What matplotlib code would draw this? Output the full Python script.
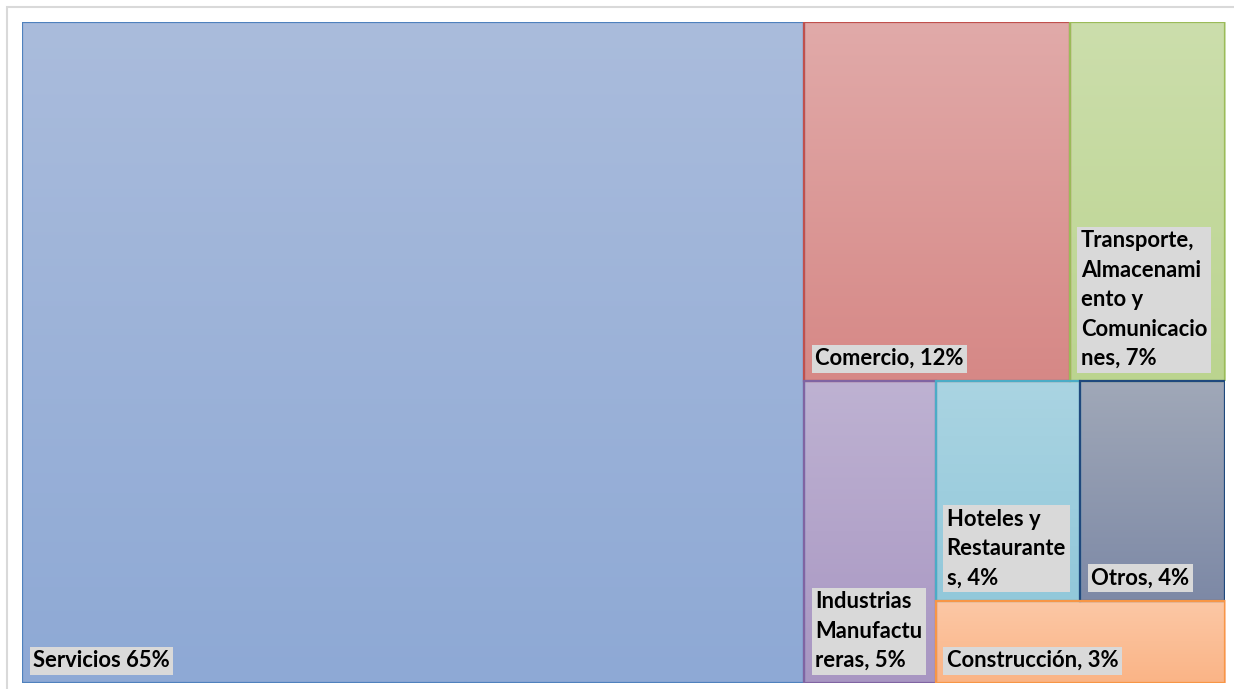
import matplotlib
matplotlib.use("Agg")
import matplotlib.pyplot as plt
import numpy as np
from matplotlib.colors import to_rgb
from matplotlib.patches import Rectangle

# data
labels = [
    "Servicios 65%",
    "Comercio, 12%",
    "Transporte,\nAlmacenami\nento y\nComunicacio\nnes, 7%",
    "Industrias\nManufactu\nreras, 5%",
    "Hoteles y\nRestaurante\ns, 4%",
    "Otros, 4%",
    "Construcción, 3%",
]
values = [65, 12, 7, 5, 4, 4, 3]
top_colors = ["#aabcdc", "#e1aaa9", "#ccdeac", "#beb2d2", "#aad4e2", "#a0a8b8", "#fcc8a6"]
bottom_colors = ["#8ea9d5", "#d68886", "#bbd48f", "#a896c2", "#92c8da", "#7d89a6", "#fab486"]
edge_colors = ["#4f81bd", "#c0504d", "#9bbb59", "#8064a2", "#4bacc6", "#1f497d", "#f79646"]

# nesting of the treemap: "h" = side by side, "v" = stacked top to bottom
layout = ("h", [0, ("v", [("h", [1, 2]), ("h", [3, ("v", [("h", [4, 5]), 6])])])])


def total(node):
    if isinstance(node, int):
        return values[node]
    return sum(total(n) for n in node[1])


def place(node, x, y, w, h, out):
    if isinstance(node, int):
        out[node] = (x, y, w, h)
        return
    kind, kids = node
    s = total(node)
    if kind == "h":
        cx = x
        for k in kids:
            kw = w * total(k) / s
            place(k, cx, y, kw, h, out)
            cx += kw
    else:
        cy = y + h
        for k in kids:
            kh = h * total(k) / s
            cy -= kh
            place(k, x, cy, w, kh, out)


rects = {}
place(layout, 0, 0, 1, 1, rects)

W, H = 1234, 689
fig = plt.figure(figsize=(W / 100, H / 100), dpi=100)
fig.patches.append(Rectangle((7 / W, -0.1), 1.2, 1 - 7 / H + 0.1, transform=fig.transFigure,
                             fill=False, edgecolor="#d9d9d9", linewidth=1.5))
ax = fig.add_axes([22 / W, 1 - 683 / H, 1203 / W, 661 / H])

for i in range(len(values)):
    x, y, w, h = rects[i]
    c0 = np.array(to_rgb(top_colors[i]))
    c1 = np.array(to_rgb(bottom_colors[i]))
    t = np.linspace(0, 1, 128)[:, None]
    grad = (c0 * (1 - t) + c1 * t)[:, None, :]
    ax.imshow(grad, extent=(x, x + w, y, y + h), aspect="auto", interpolation="bilinear", zorder=1)
    ax.add_patch(Rectangle((x, y), w, h, fill=False, edgecolor=edge_colors[i], linewidth=1.6, zorder=2))
    ax.annotate(labels[i], xy=(x, y), xytext=(8, 8.5), textcoords="offset points",
                ha="left", va="bottom", fontsize=15.8, fontweight="bold", family="Lato",
                linespacing=1.5, zorder=3,
                bbox=dict(boxstyle="square,pad=0.16", facecolor="#d9d9d9", edgecolor="none"))

ax.set_xlim(0, 1)
ax.set_ylim(0, 1)
ax.axis("off")

fig.savefig("out.png", dpi=100)
